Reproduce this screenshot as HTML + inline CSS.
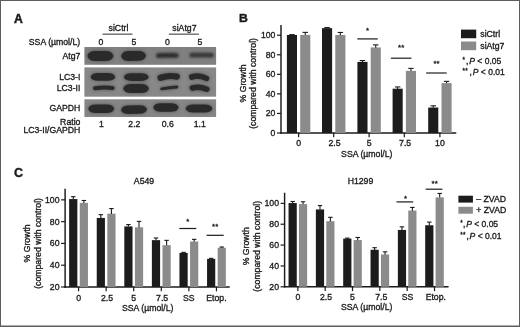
<!DOCTYPE html>
<html lang="en"><head><meta charset="utf-8"><title>Figure</title>
<style>html,body{margin:0;padding:0;background:#fff;}svg{display:block;}</style></head>
<body>
<svg width="520" height="327" viewBox="0 0 520 327" font-family='"Liberation Sans", sans-serif' fill="#1a1a1a">
<style>text{stroke:#1a1a1a;stroke-width:0.32px;paint-order:stroke;}</style>
<defs><filter id="b1" filterUnits="userSpaceOnUse" x="80" y="40" width="140" height="80"><feGaussianBlur stdDeviation="0.9"/></filter><filter id="b2" filterUnits="userSpaceOnUse" x="80" y="40" width="140" height="80"><feGaussianBlur stdDeviation="0.6"/></filter><filter id="b3" filterUnits="userSpaceOnUse" x="80" y="40" width="140" height="80"><feGaussianBlur stdDeviation="1.4"/></filter><filter id="soft" filterUnits="userSpaceOnUse" x="0" y="0" width="520" height="327"><feGaussianBlur stdDeviation="0.4"/></filter></defs>
<rect x="0" y="0" width="520" height="327" fill="#ffffff"/>
<rect x="0" y="0" width="520" height="1" fill="#5e5e5e"/><rect x="0" y="0" width="1" height="327" fill="#5e5e5e"/><rect x="519" y="0" width="1" height="327" fill="#5e5e5e"/><rect x="0" y="325.5" width="520" height="1.5" fill="#5e5e5e"/>
<g filter="url(#soft)">
<text x="14.0" y="22.8" font-size="12.2" text-anchor="start" font-weight="bold" style="stroke-width:0.45px">A</text>
<text transform="translate(238.9,22.1) scale(1.05,1)" font-size="11.7" font-weight="bold" style="stroke-width:0.4px">B</text>
<text x="13.9" y="177.1" font-size="12.5" text-anchor="start" font-weight="bold" style="stroke-width:0.4px">C</text>
<text x="118.5" y="30.9" font-size="8.7" text-anchor="middle" font-weight="normal" >siCtrl</text>
<line x1="102.5" y1="34.2" x2="132.5" y2="34.2" stroke="#6a6a6a" stroke-width="1.4"/>
<text x="184.4" y="30.9" font-size="8.7" text-anchor="middle" font-weight="normal" >siAtg7</text>
<line x1="168.8" y1="34.2" x2="198.9" y2="34.2" stroke="#6a6a6a" stroke-width="1.4"/>
<text x="80.2" y="44.8" font-size="8.7" text-anchor="end" font-weight="normal" >SSA (µmol/L)</text>
<text x="100.8" y="44.8" font-size="8.7" text-anchor="middle" font-weight="normal" >0</text>
<text x="134" y="44.8" font-size="8.7" text-anchor="middle" font-weight="normal" >5</text>
<text x="167.4" y="44.8" font-size="8.7" text-anchor="middle" font-weight="normal" >0</text>
<text x="200" y="44.8" font-size="8.7" text-anchor="middle" font-weight="normal" >5</text>
<text x="80.4" y="59.3" font-size="8.7" text-anchor="end" font-weight="normal" >Atg7</text>
<text x="80.4" y="79.6" font-size="8.7" text-anchor="end" font-weight="normal" >LC3-I</text>
<text x="80.4" y="91.2" font-size="8.7" text-anchor="end" font-weight="normal" >LC3-II</text>
<text x="80.4" y="110.9" font-size="8.7" text-anchor="end" font-weight="normal" >GAPDH</text>
<text x="80.4" y="124.6" font-size="8.7" text-anchor="end" font-weight="normal" >Ratio</text>
<text x="80.4" y="133.3" font-size="8.7" text-anchor="end" font-weight="normal" >LC3-II/GAPDH</text>
<text x="101.4" y="127.4" font-size="8.7" text-anchor="middle" font-weight="normal" >1</text>
<text x="134.4" y="127.4" font-size="8.7" text-anchor="middle" font-weight="normal" >2.2</text>
<text x="167.8" y="127.4" font-size="8.7" text-anchor="middle" font-weight="normal" >0.6</text>
<text x="199.8" y="127.4" font-size="8.7" text-anchor="middle" font-weight="normal" >1.1</text>
<rect x="84.40" y="47.00" width="131.70" height="17.80" fill="#808080"/>
<rect x="84.40" y="67.40" width="131.70" height="29.30" fill="#888888"/>
<rect x="84.40" y="99.30" width="131.70" height="17.70" fill="#868686"/>
<path d="M87.4 55.9 Q88.6 50.9 95.2 50.9 L105.6 50.9 Q112.2 50.9 113.4 55.9 Q112.2 60.9 105.6 60.9 L95.2 60.9 Q88.6 60.9 87.4 55.9Z" fill="#3a3a3a" stroke="#3a3a3a" stroke-width="1.2" filter="url(#b3)" opacity="0.55"/>
<path d="M87.4 55.9 Q88.6 50.9 95.2 50.9 L105.6 50.9 Q112.2 50.9 113.4 55.9 Q112.2 60.9 105.6 60.9 L95.2 60.9 Q88.6 60.9 87.4 55.9Z" fill="#2a2a2a" filter="url(#b2)"/>
<path d="M121.2 56.2 Q122.3 51.1 128.6 51.1 L138.6 50.9 Q144.9 50.9 146.0 55.6 Q144.9 60.7 138.6 60.7 L128.6 60.9 Q122.3 60.9 121.2 56.2Z" fill="#3a3a3a" stroke="#3a3a3a" stroke-width="1.2" filter="url(#b3)" opacity="0.55"/>
<path d="M121.2 56.2 Q122.3 51.1 128.6 51.1 L138.6 50.9 Q144.9 50.9 146.0 55.6 Q144.9 60.7 138.6 60.7 L128.6 60.9 Q122.3 60.9 121.2 56.2Z" fill="#2a2a2a" filter="url(#b2)"/>
<path d="M158.4 55.6 Q167.3 55.1 176.2 55.4" fill="none" stroke="#3a3a3a" stroke-width="5.2" stroke-linecap="round" filter="url(#b3)" opacity="0.55"/>
<path d="M158.4 55.6 Q167.3 55.1 176.2 55.4" fill="none" stroke="#2c2c2c" stroke-width="4.0" stroke-linecap="round" filter="url(#b1)" opacity="0.95"/>
<path d="M191.7 55.2 Q201.6 54.8 211.6 55.2" fill="none" stroke="#3a3a3a" stroke-width="4.9" stroke-linecap="round" filter="url(#b3)" opacity="0.55"/>
<path d="M191.7 55.2 Q201.6 54.8 211.6 55.2" fill="none" stroke="#303030" stroke-width="3.7" stroke-linecap="round" filter="url(#b1)" opacity="0.9"/>
<path d="M90.6 76.9 Q91.7 73.1 98.0 73.1 L107.8 73.1 Q114.1 73.1 115.2 76.9 Q114.1 80.7 107.8 80.7 L98.0 80.7 Q91.7 80.7 90.6 76.9Z" fill="#3a3a3a" stroke="#3a3a3a" stroke-width="1.2" filter="url(#b3)" opacity="0.55"/>
<path d="M90.6 76.9 Q91.7 73.1 98.0 73.1 L107.8 73.1 Q114.1 73.1 115.2 76.9 Q114.1 80.7 107.8 80.7 L98.0 80.7 Q91.7 80.7 90.6 76.9Z" fill="#2a2a2a" filter="url(#b2)"/>
<path d="M123.8 77.1 Q124.9 73.2 131.3 73.2 L141.2 73.2 Q147.6 73.2 148.7 77.1 Q147.6 80.9 141.2 80.9 L131.3 80.9 Q124.9 80.9 123.8 77.1Z" fill="#3a3a3a" stroke="#3a3a3a" stroke-width="1.2" filter="url(#b3)" opacity="0.55"/>
<path d="M123.8 77.1 Q124.9 73.2 131.3 73.2 L141.2 73.2 Q147.6 73.2 148.7 77.1 Q147.6 80.9 141.2 80.9 L131.3 80.9 Q124.9 80.9 123.8 77.1Z" fill="#2a2a2a" filter="url(#b2)"/>
<path d="M160.6 77.8 Q168.7 75.0 176.7 76.6" fill="none" stroke="#3a3a3a" stroke-width="7.4" stroke-linecap="round" filter="url(#b3)" opacity="0.55"/>
<path d="M160.6 77.8 Q168.7 75.0 176.7 76.6" fill="none" stroke="#2a2a2a" stroke-width="6.2" stroke-linecap="round" filter="url(#b2)" opacity="1"/>
<path d="M191.8 77.0 Q199.1 74.5 206.4 78.4" fill="none" stroke="#3a3a3a" stroke-width="6.8" stroke-linecap="round" filter="url(#b3)" opacity="0.55"/>
<path d="M191.8 77.0 Q199.1 74.5 206.4 78.4" fill="none" stroke="#2a2a2a" stroke-width="5.6" stroke-linecap="round" filter="url(#b2)" opacity="1"/>
<path d="M95.0 88.2 Q103.8 86.7 112.6 88.0" fill="none" stroke="#3a3a3a" stroke-width="5.2" stroke-linecap="round" filter="url(#b3)" opacity="0.55"/>
<path d="M95.0 88.2 Q103.8 86.7 112.6 88.0" fill="none" stroke="#2a2a2a" stroke-width="4.0" stroke-linecap="round" filter="url(#b2)" opacity="1"/>
<path d="M123.3 88.4 Q124.4 83.9 130.9 83.9 L141.2 83.9 Q147.7 83.9 148.8 88.4 Q147.7 92.9 141.2 92.9 L130.9 92.9 Q124.4 92.9 123.3 88.4Z" fill="#3a3a3a" stroke="#3a3a3a" stroke-width="1.2" filter="url(#b3)" opacity="0.55"/>
<path d="M123.3 88.4 Q124.4 83.9 130.9 83.9 L141.2 83.9 Q147.7 83.9 148.8 88.4 Q147.7 92.9 141.2 92.9 L130.9 92.9 Q124.4 92.9 123.3 88.4Z" fill="#2a2a2a" filter="url(#b2)"/>
<path d="M161.7 88.8 Q169.3 87.5 176.9 87.0" fill="none" stroke="#3a3a3a" stroke-width="4.0" stroke-linecap="round" filter="url(#b3)" opacity="0.55"/>
<path d="M161.7 88.8 Q169.3 87.5 176.9 87.0" fill="none" stroke="#2a2a2a" stroke-width="2.8" stroke-linecap="round" filter="url(#b2)" opacity="1"/>
<path d="M192.4 88.0 Q199.6 86.0 206.8 89.2" fill="none" stroke="#3a3a3a" stroke-width="6.8" stroke-linecap="round" filter="url(#b3)" opacity="0.55"/>
<path d="M192.4 88.0 Q199.6 86.0 206.8 89.2" fill="none" stroke="#2a2a2a" stroke-width="5.6" stroke-linecap="round" filter="url(#b2)" opacity="1"/>
<path d="M88.2 108.8 Q89.4 104.6 96.0 104.6 L106.4 104.6 Q113.0 104.6 114.2 108.8 Q113.0 113.0 106.4 113.0 L96.0 113.0 Q89.4 113.0 88.2 108.8Z" fill="#3a3a3a" stroke="#3a3a3a" stroke-width="1.2" filter="url(#b3)" opacity="0.55"/>
<path d="M88.2 108.8 Q89.4 104.6 96.0 104.6 L106.4 104.6 Q113.0 104.6 114.2 108.8 Q113.0 113.0 106.4 113.0 L96.0 113.0 Q89.4 113.0 88.2 108.8Z" fill="#2a2a2a" filter="url(#b2)"/>
<path d="M121.0 109.9 Q122.2 105.5 128.8 105.5 L139.2 105.3 Q145.8 105.3 147.0 109.3 Q145.8 113.7 139.2 113.7 L128.8 113.9 Q122.2 113.9 121.0 109.9Z" fill="#3a3a3a" stroke="#3a3a3a" stroke-width="1.2" filter="url(#b3)" opacity="0.55"/>
<path d="M121.0 109.9 Q122.2 105.5 128.8 105.5 L139.2 105.3 Q145.8 105.3 147.0 109.3 Q145.8 113.7 139.2 113.7 L128.8 113.9 Q122.2 113.9 121.0 109.9Z" fill="#2a2a2a" filter="url(#b2)"/>
<path d="M153.3 107.5 Q154.4 103.3 160.9 103.3 L171.0 103.3 Q177.5 103.3 178.6 107.5 Q177.5 111.7 171.0 111.7 L160.9 111.7 Q154.4 111.7 153.3 107.5Z" fill="#3a3a3a" stroke="#3a3a3a" stroke-width="1.2" filter="url(#b3)" opacity="0.55"/>
<path d="M153.3 107.5 Q154.4 103.3 160.9 103.3 L171.0 103.3 Q177.5 103.3 178.6 107.5 Q177.5 111.7 171.0 111.7 L160.9 111.7 Q154.4 111.7 153.3 107.5Z" fill="#2a2a2a" filter="url(#b2)"/>
<path d="M185.6 108.5 Q186.8 104.6 193.6 104.6 L204.4 104.6 Q211.2 104.6 212.4 108.5 Q211.2 112.4 204.4 112.4 L193.6 112.4 Q186.8 112.4 185.6 108.5Z" fill="#3a3a3a" stroke="#3a3a3a" stroke-width="1.2" filter="url(#b3)" opacity="0.55"/>
<path d="M185.6 108.5 Q186.8 104.6 193.6 104.6 L204.4 104.6 Q211.2 104.6 212.4 108.5 Q211.2 112.4 204.4 112.4 L193.6 112.4 Q186.8 112.4 185.6 108.5Z" fill="#2a2a2a" filter="url(#b2)"/>
<line x1="281" y1="25" x2="281" y2="133.7" stroke="#1b1b1b" stroke-width="1.45"/>
<line x1="280.3" y1="133" x2="456.3" y2="133" stroke="#1b1b1b" stroke-width="1.45"/>
<line x1="277.0" y1="133.0" x2="281" y2="133.0" stroke="#1b1b1b" stroke-width="1.2"/>
<text x="275.4" y="136.05" font-size="8.7" text-anchor="end" font-weight="normal" >0</text>
<line x1="277.0" y1="113.44" x2="281" y2="113.44" stroke="#1b1b1b" stroke-width="1.2"/>
<text x="275.4" y="116.49" font-size="8.7" text-anchor="end" font-weight="normal" >20</text>
<line x1="277.0" y1="93.88" x2="281" y2="93.88" stroke="#1b1b1b" stroke-width="1.2"/>
<text x="275.4" y="96.92999999999999" font-size="8.7" text-anchor="end" font-weight="normal" >40</text>
<line x1="277.0" y1="74.32" x2="281" y2="74.32" stroke="#1b1b1b" stroke-width="1.2"/>
<text x="275.4" y="77.36999999999999" font-size="8.7" text-anchor="end" font-weight="normal" >60</text>
<line x1="277.0" y1="54.760000000000005" x2="281" y2="54.760000000000005" stroke="#1b1b1b" stroke-width="1.2"/>
<text x="275.4" y="57.81" font-size="8.7" text-anchor="end" font-weight="normal" >80</text>
<line x1="277.0" y1="35.2" x2="281" y2="35.2" stroke="#1b1b1b" stroke-width="1.2"/>
<text x="275.4" y="38.25" font-size="8.7" text-anchor="end" font-weight="normal" >100</text>
<rect x="286.90" y="35.00" width="10.10" height="98.00" fill="#1b1b1b"/>
<line x1="291.95" y1="34.613200000000006" x2="291.95" y2="35.20440000000001" stroke="#1b1b1b" stroke-width="1.1"/>
<line x1="289.223" y1="34.613200000000006" x2="294.67699999999996" y2="34.613200000000006" stroke="#1b1b1b" stroke-width="1.1"/>
<rect x="300.20" y="34.91" width="10.10" height="98.09" fill="#8b8b8b"/>
<line x1="305.25" y1="32.36380000000001" x2="305.25" y2="35.106600000000014" stroke="#1b1b1b" stroke-width="1.1"/>
<line x1="302.523" y1="32.36380000000001" x2="307.977" y2="32.36380000000001" stroke="#1b1b1b" stroke-width="1.1"/>
<line x1="298.6" y1="133" x2="298.6" y2="137.3" stroke="#1b1b1b" stroke-width="1.2"/>
<text x="298.6" y="145.6" font-size="8.7" text-anchor="middle" font-weight="normal" >0</text>
<rect x="322.00" y="28.16" width="10.10" height="104.84" fill="#1b1b1b"/>
<line x1="327.05" y1="27.5716" x2="327.05" y2="28.3584" stroke="#1b1b1b" stroke-width="1.1"/>
<line x1="324.32300000000004" y1="27.5716" x2="329.777" y2="27.5716" stroke="#1b1b1b" stroke-width="1.1"/>
<rect x="335.30" y="35.00" width="10.10" height="98.00" fill="#8b8b8b"/>
<line x1="340.35" y1="32.461600000000004" x2="340.35" y2="35.20440000000001" stroke="#1b1b1b" stroke-width="1.1"/>
<line x1="337.62300000000005" y1="32.461600000000004" x2="343.077" y2="32.461600000000004" stroke="#1b1b1b" stroke-width="1.1"/>
<line x1="333.70000000000005" y1="133" x2="333.70000000000005" y2="137.3" stroke="#1b1b1b" stroke-width="1.2"/>
<text x="334.50000000000006" y="145.6" font-size="8.7" text-anchor="middle" font-weight="normal" >2.5</text>
<rect x="357.40" y="61.90" width="10.10" height="71.10" fill="#1b1b1b"/>
<line x1="362.45" y1="60.5302" x2="362.45" y2="62.0994" stroke="#1b1b1b" stroke-width="1.1"/>
<line x1="359.723" y1="60.5302" x2="365.17699999999996" y2="60.5302" stroke="#1b1b1b" stroke-width="1.1"/>
<rect x="370.70" y="47.42" width="10.10" height="85.58" fill="#8b8b8b"/>
<line x1="375.75" y1="44.8822" x2="375.75" y2="47.625" stroke="#1b1b1b" stroke-width="1.1"/>
<line x1="373.023" y1="44.8822" x2="378.477" y2="44.8822" stroke="#1b1b1b" stroke-width="1.1"/>
<line x1="369.1" y1="133" x2="369.1" y2="137.3" stroke="#1b1b1b" stroke-width="1.2"/>
<text x="369.1" y="145.6" font-size="8.7" text-anchor="middle" font-weight="normal" >5</text>
<rect x="392.60" y="88.70" width="10.10" height="44.30" fill="#1b1b1b"/>
<line x1="397.65" y1="86.9362" x2="397.65" y2="88.8966" stroke="#1b1b1b" stroke-width="1.1"/>
<line x1="394.923" y1="86.9362" x2="400.37699999999995" y2="86.9362" stroke="#1b1b1b" stroke-width="1.1"/>
<rect x="405.90" y="70.90" width="10.10" height="62.10" fill="#8b8b8b"/>
<line x1="410.95" y1="68.35419999999999" x2="410.95" y2="71.097" stroke="#1b1b1b" stroke-width="1.1"/>
<line x1="408.223" y1="68.35419999999999" x2="413.67699999999996" y2="68.35419999999999" stroke="#1b1b1b" stroke-width="1.1"/>
<line x1="404.3" y1="133" x2="404.3" y2="137.3" stroke="#1b1b1b" stroke-width="1.2"/>
<text x="405.1" y="145.6" font-size="8.7" text-anchor="middle" font-weight="normal" >7.5</text>
<rect x="428.20" y="107.57" width="10.10" height="25.43" fill="#1b1b1b"/>
<line x1="433.24999999999994" y1="105.8116" x2="433.24999999999994" y2="107.772" stroke="#1b1b1b" stroke-width="1.1"/>
<line x1="430.52299999999997" y1="105.8116" x2="435.9769999999999" y2="105.8116" stroke="#1b1b1b" stroke-width="1.1"/>
<rect x="441.50" y="83.12" width="10.10" height="49.88" fill="#8b8b8b"/>
<line x1="446.54999999999995" y1="81.3616" x2="446.54999999999995" y2="83.322" stroke="#1b1b1b" stroke-width="1.1"/>
<line x1="443.823" y1="81.3616" x2="449.27699999999993" y2="81.3616" stroke="#1b1b1b" stroke-width="1.1"/>
<line x1="439.9" y1="133" x2="439.9" y2="137.3" stroke="#1b1b1b" stroke-width="1.2"/>
<text x="439.9" y="145.6" font-size="8.7" text-anchor="middle" font-weight="normal" >10</text>
<text x="366.8" y="157.3" font-size="8.7" text-anchor="middle" font-weight="normal" >SSA (µmol/L)</text>
<text transform="translate(245.6,83.4) rotate(-90)" font-size="8.7" text-anchor="middle">% Growth</text>
<text transform="translate(256.0,83.4) rotate(-90)" font-size="8.7" text-anchor="middle">(compared with control)</text>
<line x1="357.3" y1="38.9" x2="377.8" y2="38.9" stroke="#1b1b1b" stroke-width="1.2"/>
<text x="367.55" y="32.8" font-size="7.8" text-anchor="middle" font-weight="normal" >*</text>
<line x1="390.9" y1="58.2" x2="411.4" y2="58.2" stroke="#1b1b1b" stroke-width="1.2"/>
<text x="401.15" y="50.3" font-size="7.8" text-anchor="middle" font-weight="normal" >**</text>
<line x1="426.2" y1="73.0" x2="446.7" y2="73.0" stroke="#1b1b1b" stroke-width="1.2"/>
<text x="436.45" y="65.7" font-size="7.8" text-anchor="middle" font-weight="normal" >**</text>
<rect x="461.00" y="29.60" width="15.20" height="8.60" fill="#1b1b1b"/>
<rect x="461.00" y="41.50" width="15.20" height="8.70" fill="#8b8b8b"/>
<text x="480.3" y="37" font-size="8.7" text-anchor="start" font-weight="normal" >siCtrl</text>
<text x="480.3" y="49" font-size="8.7" text-anchor="start" font-weight="normal" >siAtg7</text>
<text x="462.6" y="63.5" font-size="8.5"><tspan font-size="6.4" dy="-1.8" letter-spacing="0.25">*</tspan><tspan x="466.1" dy="1.8">,</tspan><tspan x="469.3" font-style="italic">P</tspan> &lt; 0.05</text>
<text x="462.6" y="74.7" font-size="8.5"><tspan font-size="6.4" dy="-1.8" letter-spacing="0.25">**</tspan><tspan x="469.6" dy="1.8">,</tspan><tspan x="472.8" font-style="italic">P</tspan> &lt; 0.01</text>
<line x1="65.1" y1="188.8" x2="65.1" y2="287.7" stroke="#1b1b1b" stroke-width="1.45"/>
<line x1="64.39999999999999" y1="287.0" x2="229.7" y2="287.0" stroke="#1b1b1b" stroke-width="1.45"/>
<line x1="61.099999999999994" y1="287.0" x2="65.1" y2="287.0" stroke="#1b1b1b" stroke-width="1.2"/>
<text x="59.49999999999999" y="290.05" font-size="8.7" text-anchor="end" font-weight="normal" >20</text>
<line x1="61.099999999999994" y1="265.21" x2="65.1" y2="265.21" stroke="#1b1b1b" stroke-width="1.2"/>
<text x="59.49999999999999" y="268.26" font-size="8.7" text-anchor="end" font-weight="normal" >40</text>
<line x1="61.099999999999994" y1="243.42000000000002" x2="65.1" y2="243.42000000000002" stroke="#1b1b1b" stroke-width="1.2"/>
<text x="59.49999999999999" y="246.47000000000003" font-size="8.7" text-anchor="end" font-weight="normal" >60</text>
<line x1="61.099999999999994" y1="221.63" x2="65.1" y2="221.63" stroke="#1b1b1b" stroke-width="1.2"/>
<text x="59.49999999999999" y="224.68" font-size="8.7" text-anchor="end" font-weight="normal" >80</text>
<line x1="61.099999999999994" y1="199.84" x2="65.1" y2="199.84" stroke="#1b1b1b" stroke-width="1.2"/>
<text x="59.49999999999999" y="202.89000000000001" font-size="8.7" text-anchor="end" font-weight="normal" >100</text>
<rect x="69.15" y="199.08" width="8.20" height="87.92" fill="#1b1b1b"/>
<line x1="73.25" y1="196.68045000000004" x2="73.25" y2="199.27735" stroke="#1b1b1b" stroke-width="1.1"/>
<line x1="71.036" y1="196.68045000000004" x2="75.464" y2="196.68045000000004" stroke="#1b1b1b" stroke-width="1.1"/>
<rect x="79.75" y="202.89" width="8.20" height="84.11" fill="#8b8b8b"/>
<line x1="83.85000000000001" y1="200.49370000000002" x2="83.85000000000001" y2="203.0906" stroke="#1b1b1b" stroke-width="1.1"/>
<line x1="81.63600000000001" y1="200.49370000000002" x2="86.06400000000001" y2="200.49370000000002" stroke="#1b1b1b" stroke-width="1.1"/>
<line x1="78.55000000000001" y1="287.0" x2="78.55000000000001" y2="291.3" stroke="#1b1b1b" stroke-width="1.2"/>
<text x="78.55000000000001" y="300.5" font-size="8.7" text-anchor="middle" font-weight="normal" >0</text>
<rect x="96.73" y="217.93" width="8.20" height="69.07" fill="#1b1b1b"/>
<line x1="100.83" y1="214.65720000000002" x2="100.83" y2="218.1257" stroke="#1b1b1b" stroke-width="1.1"/>
<line x1="98.616" y1="214.65720000000002" x2="103.044" y2="214.65720000000002" stroke="#1b1b1b" stroke-width="1.1"/>
<rect x="107.33" y="213.68" width="8.20" height="73.32" fill="#8b8b8b"/>
<line x1="111.43" y1="208.55599999999998" x2="111.43" y2="213.87664999999998" stroke="#1b1b1b" stroke-width="1.1"/>
<line x1="109.21600000000001" y1="208.55599999999998" x2="113.644" y2="208.55599999999998" stroke="#1b1b1b" stroke-width="1.1"/>
<line x1="106.13000000000001" y1="287.0" x2="106.13000000000001" y2="291.3" stroke="#1b1b1b" stroke-width="1.2"/>
<text x="106.93" y="300.5" font-size="8.7" text-anchor="middle" font-weight="normal" >2.5</text>
<rect x="124.31" y="226.42" width="8.20" height="60.58" fill="#1b1b1b"/>
<line x1="128.41" y1="224.57165000000003" x2="128.41" y2="226.62380000000002" stroke="#1b1b1b" stroke-width="1.1"/>
<line x1="126.196" y1="224.57165000000003" x2="130.624" y2="224.57165000000003" stroke="#1b1b1b" stroke-width="1.1"/>
<rect x="134.91" y="227.30" width="8.20" height="59.70" fill="#8b8b8b"/>
<line x1="139.01" y1="221.4121" x2="139.01" y2="227.4954" stroke="#1b1b1b" stroke-width="1.1"/>
<line x1="136.796" y1="221.4121" x2="141.224" y2="221.4121" stroke="#1b1b1b" stroke-width="1.1"/>
<line x1="133.70999999999998" y1="287.0" x2="133.70999999999998" y2="291.3" stroke="#1b1b1b" stroke-width="1.2"/>
<text x="133.70999999999998" y="300.5" font-size="8.7" text-anchor="middle" font-weight="normal" >5</text>
<rect x="151.89" y="240.15" width="8.20" height="46.85" fill="#1b1b1b"/>
<line x1="155.98999999999998" y1="237.9725" x2="155.98999999999998" y2="240.3515" stroke="#1b1b1b" stroke-width="1.1"/>
<line x1="153.77599999999998" y1="237.9725" x2="158.20399999999998" y2="237.9725" stroke="#1b1b1b" stroke-width="1.1"/>
<rect x="162.49" y="245.16" width="8.20" height="41.84" fill="#8b8b8b"/>
<line x1="166.58999999999997" y1="240.3694" x2="166.58999999999997" y2="245.3632" stroke="#1b1b1b" stroke-width="1.1"/>
<line x1="164.37599999999998" y1="240.3694" x2="168.80399999999997" y2="240.3694" stroke="#1b1b1b" stroke-width="1.1"/>
<line x1="161.28999999999996" y1="287.0" x2="161.28999999999996" y2="291.3" stroke="#1b1b1b" stroke-width="1.2"/>
<text x="162.08999999999997" y="300.5" font-size="8.7" text-anchor="middle" font-weight="normal" >7.5</text>
<rect x="179.47" y="252.90" width="8.20" height="34.10" fill="#1b1b1b"/>
<line x1="183.57" y1="252.3539" x2="183.57" y2="253.09865" stroke="#1b1b1b" stroke-width="1.1"/>
<line x1="181.356" y1="252.3539" x2="185.784" y2="252.3539" stroke="#1b1b1b" stroke-width="1.1"/>
<rect x="190.07" y="241.57" width="8.20" height="45.43" fill="#8b8b8b"/>
<line x1="194.17" y1="239.38885" x2="194.17" y2="241.76784999999998" stroke="#1b1b1b" stroke-width="1.1"/>
<line x1="191.956" y1="239.38885" x2="196.384" y2="239.38885" stroke="#1b1b1b" stroke-width="1.1"/>
<line x1="188.86999999999998" y1="287.0" x2="188.86999999999998" y2="291.3" stroke="#1b1b1b" stroke-width="1.2"/>
<text x="188.86999999999998" y="300.5" font-size="8.7" text-anchor="middle" font-weight="normal" >SS</text>
<rect x="207.05" y="258.89" width="8.20" height="28.11" fill="#1b1b1b"/>
<line x1="211.14999999999998" y1="258.34614999999997" x2="211.14999999999998" y2="259.0909" stroke="#1b1b1b" stroke-width="1.1"/>
<line x1="208.93599999999998" y1="258.34614999999997" x2="213.36399999999998" y2="258.34614999999997" stroke="#1b1b1b" stroke-width="1.1"/>
<rect x="217.65" y="247.78" width="8.20" height="39.22" fill="#8b8b8b"/>
<line x1="221.74999999999997" y1="247.01535" x2="221.74999999999997" y2="247.978" stroke="#1b1b1b" stroke-width="1.1"/>
<line x1="219.53599999999997" y1="247.01535" x2="223.96399999999997" y2="247.01535" stroke="#1b1b1b" stroke-width="1.1"/>
<line x1="216.44999999999996" y1="287.0" x2="216.44999999999996" y2="291.3" stroke="#1b1b1b" stroke-width="1.2"/>
<text x="216.44999999999996" y="300.5" font-size="8.7" text-anchor="middle" font-weight="normal" >Etop.</text>
<text x="147.7" y="311.0" font-size="8.7" text-anchor="middle" font-weight="normal" >SSA (µmol/L)</text>
<text transform="translate(29.65,243.4) rotate(-90)" font-size="8.7" text-anchor="middle">% Growth</text>
<text transform="translate(41.2,243.4) rotate(-90)" font-size="8.7" text-anchor="middle">(compared with control)</text>
<text x="144.0" y="184.4" font-size="8.7" text-anchor="middle" font-weight="normal" >A549</text>
<line x1="179.3" y1="228.5" x2="196.3" y2="228.5" stroke="#1b1b1b" stroke-width="1.2"/>
<text x="187.8" y="223.7" font-size="7.8" text-anchor="middle" font-weight="normal" >*</text>
<line x1="206.6" y1="235.3" x2="223.7" y2="235.3" stroke="#1b1b1b" stroke-width="1.2"/>
<text x="215.14999999999998" y="229.3" font-size="7.8" text-anchor="middle" font-weight="normal" >**</text>
<line x1="284.6" y1="192.7" x2="284.6" y2="287.5" stroke="#1b1b1b" stroke-width="1.45"/>
<line x1="283.90000000000003" y1="286.8" x2="448.6" y2="286.8" stroke="#1b1b1b" stroke-width="1.45"/>
<line x1="280.6" y1="286.8" x2="284.6" y2="286.8" stroke="#1b1b1b" stroke-width="1.2"/>
<text x="279.0" y="289.85" font-size="8.7" text-anchor="end" font-weight="normal" >20</text>
<line x1="280.6" y1="265.94" x2="284.6" y2="265.94" stroke="#1b1b1b" stroke-width="1.2"/>
<text x="279.0" y="268.99" font-size="8.7" text-anchor="end" font-weight="normal" >40</text>
<line x1="280.6" y1="245.08" x2="284.6" y2="245.08" stroke="#1b1b1b" stroke-width="1.2"/>
<text x="279.0" y="248.13000000000002" font-size="8.7" text-anchor="end" font-weight="normal" >60</text>
<line x1="280.6" y1="224.22000000000003" x2="284.6" y2="224.22000000000003" stroke="#1b1b1b" stroke-width="1.2"/>
<text x="279.0" y="227.27000000000004" font-size="8.7" text-anchor="end" font-weight="normal" >80</text>
<line x1="280.6" y1="203.36" x2="284.6" y2="203.36" stroke="#1b1b1b" stroke-width="1.2"/>
<text x="279.0" y="206.41000000000003" font-size="8.7" text-anchor="end" font-weight="normal" >100</text>
<rect x="288.55" y="203.05" width="8.20" height="83.75" fill="#1b1b1b"/>
<line x1="292.65000000000003" y1="201.4826" x2="292.65000000000003" y2="203.2471" stroke="#1b1b1b" stroke-width="1.1"/>
<line x1="290.43600000000004" y1="201.4826" x2="294.86400000000003" y2="201.4826" stroke="#1b1b1b" stroke-width="1.1"/>
<rect x="298.95" y="204.09" width="8.20" height="82.71" fill="#8b8b8b"/>
<line x1="303.05" y1="201.7955" x2="303.05" y2="204.2901" stroke="#1b1b1b" stroke-width="1.1"/>
<line x1="300.836" y1="201.7955" x2="305.264" y2="201.7955" stroke="#1b1b1b" stroke-width="1.1"/>
<line x1="297.85" y1="286.8" x2="297.85" y2="291.1" stroke="#1b1b1b" stroke-width="1.2"/>
<text x="297.85" y="300.2" font-size="8.7" text-anchor="middle" font-weight="normal" >0</text>
<rect x="315.88" y="209.41" width="8.20" height="77.39" fill="#1b1b1b"/>
<line x1="319.98" y1="205.5503" x2="319.98" y2="209.6094" stroke="#1b1b1b" stroke-width="1.1"/>
<line x1="317.766" y1="205.5503" x2="322.194" y2="205.5503" stroke="#1b1b1b" stroke-width="1.1"/>
<rect x="326.28" y="221.20" width="8.20" height="65.60" fill="#8b8b8b"/>
<line x1="330.38" y1="217.3362" x2="330.38" y2="221.3953" stroke="#1b1b1b" stroke-width="1.1"/>
<line x1="328.166" y1="217.3362" x2="332.594" y2="217.3362" stroke="#1b1b1b" stroke-width="1.1"/>
<line x1="325.18" y1="286.8" x2="325.18" y2="291.1" stroke="#1b1b1b" stroke-width="1.2"/>
<text x="325.98" y="300.2" font-size="8.7" text-anchor="middle" font-weight="normal" >2.5</text>
<rect x="343.21" y="238.61" width="8.20" height="48.19" fill="#1b1b1b"/>
<line x1="347.31000000000006" y1="238.0919" x2="347.31000000000006" y2="238.8134" stroke="#1b1b1b" stroke-width="1.1"/>
<line x1="345.09600000000006" y1="238.0919" x2="349.52400000000006" y2="238.0919" stroke="#1b1b1b" stroke-width="1.1"/>
<rect x="353.61" y="240.07" width="8.20" height="46.73" fill="#8b8b8b"/>
<line x1="357.71000000000004" y1="237.46610000000004" x2="357.71000000000004" y2="240.27360000000002" stroke="#1b1b1b" stroke-width="1.1"/>
<line x1="355.49600000000004" y1="237.46610000000004" x2="359.92400000000004" y2="237.46610000000004" stroke="#1b1b1b" stroke-width="1.1"/>
<line x1="352.51000000000005" y1="286.8" x2="352.51000000000005" y2="291.1" stroke="#1b1b1b" stroke-width="1.2"/>
<text x="352.51000000000005" y="300.2" font-size="8.7" text-anchor="middle" font-weight="normal" >5</text>
<rect x="370.54" y="249.77" width="8.20" height="37.03" fill="#1b1b1b"/>
<line x1="374.64000000000004" y1="247.6875" x2="374.64000000000004" y2="249.9735" stroke="#1b1b1b" stroke-width="1.1"/>
<line x1="372.42600000000004" y1="247.6875" x2="376.85400000000004" y2="247.6875" stroke="#1b1b1b" stroke-width="1.1"/>
<rect x="380.94" y="254.47" width="8.20" height="32.33" fill="#8b8b8b"/>
<line x1="385.04" y1="251.85950000000003" x2="385.04" y2="254.667" stroke="#1b1b1b" stroke-width="1.1"/>
<line x1="382.826" y1="251.85950000000003" x2="387.254" y2="251.85950000000003" stroke="#1b1b1b" stroke-width="1.1"/>
<line x1="379.84000000000003" y1="286.8" x2="379.84000000000003" y2="291.1" stroke="#1b1b1b" stroke-width="1.2"/>
<text x="381.24000000000007" y="300.2" font-size="8.7" text-anchor="middle" font-weight="normal" >7.5</text>
<rect x="397.87" y="229.96" width="8.20" height="56.84" fill="#1b1b1b"/>
<line x1="401.97" y1="226.82750000000001" x2="401.97" y2="230.1565" stroke="#1b1b1b" stroke-width="1.1"/>
<line x1="399.75600000000003" y1="226.82750000000001" x2="404.184" y2="226.82750000000001" stroke="#1b1b1b" stroke-width="1.1"/>
<rect x="408.27" y="210.56" width="8.20" height="76.24" fill="#8b8b8b"/>
<line x1="412.37" y1="207.42770000000004" x2="412.37" y2="210.75670000000002" stroke="#1b1b1b" stroke-width="1.1"/>
<line x1="410.156" y1="207.42770000000004" x2="414.584" y2="207.42770000000004" stroke="#1b1b1b" stroke-width="1.1"/>
<line x1="407.17" y1="286.8" x2="407.17" y2="291.1" stroke="#1b1b1b" stroke-width="1.2"/>
<text x="407.47" y="300.2" font-size="8.7" text-anchor="middle" font-weight="normal" >SS</text>
<rect x="425.20" y="225.26" width="8.20" height="61.54" fill="#1b1b1b"/>
<line x1="429.3" y1="222.13400000000001" x2="429.3" y2="225.463" stroke="#1b1b1b" stroke-width="1.1"/>
<line x1="427.086" y1="222.13400000000001" x2="431.514" y2="222.13400000000001" stroke="#1b1b1b" stroke-width="1.1"/>
<rect x="435.60" y="197.41" width="8.20" height="89.39" fill="#8b8b8b"/>
<line x1="439.7" y1="193.4515" x2="439.7" y2="197.6149" stroke="#1b1b1b" stroke-width="1.1"/>
<line x1="437.486" y1="193.4515" x2="441.914" y2="193.4515" stroke="#1b1b1b" stroke-width="1.1"/>
<line x1="434.5" y1="286.8" x2="434.5" y2="291.1" stroke="#1b1b1b" stroke-width="1.2"/>
<text x="435.8" y="300.2" font-size="8.7" text-anchor="middle" font-weight="normal" >Etop.</text>
<text x="366.7" y="310.3" font-size="8.7" text-anchor="middle" font-weight="normal" >SSA (µmol/L)</text>
<text transform="translate(249.0,246.3) rotate(-90)" font-size="8.7" text-anchor="middle">% Growth</text>
<text transform="translate(259.6,246.3) rotate(-90)" font-size="8.7" text-anchor="middle">(compared with control)</text>
<text x="360.5" y="184.3" font-size="8.7" text-anchor="middle" font-weight="normal" >H1299</text>
<line x1="396.5" y1="201.9" x2="413.2" y2="201.9" stroke="#1b1b1b" stroke-width="1.2"/>
<text x="405.55" y="200.7" font-size="7.8" text-anchor="middle" font-weight="normal" >*</text>
<line x1="425.7" y1="189.2" x2="442.4" y2="189.2" stroke="#1b1b1b" stroke-width="1.2"/>
<text x="434.65" y="186.2" font-size="7.8" text-anchor="middle" font-weight="normal" >**</text>
<rect x="458.40" y="195.70" width="14.50" height="6.90" fill="#1b1b1b"/>
<rect x="458.40" y="206.80" width="14.50" height="6.90" fill="#8b8b8b"/>
<text x="476.2" y="201.8" font-size="8.7" text-anchor="start" font-weight="normal" >– ZVAD</text>
<text x="476.2" y="213.2" font-size="8.7" text-anchor="start" font-weight="normal" >+ ZVAD</text>
<text x="460.2" y="227.1" font-size="8.5"><tspan font-size="6.4" dy="-1.8" letter-spacing="0.25">*</tspan><tspan x="463.0" dy="1.8">,</tspan><tspan x="466.2" font-style="italic">P</tspan> &lt; 0.05</text>
<text x="460.2" y="238.7" font-size="8.5"><tspan font-size="6.4" dy="-1.8" letter-spacing="0.25">**</tspan><tspan x="466.4" dy="1.8">,</tspan><tspan x="469.6" font-style="italic">P</tspan> &lt; 0.01</text>
</g>
</svg>
</body></html>
